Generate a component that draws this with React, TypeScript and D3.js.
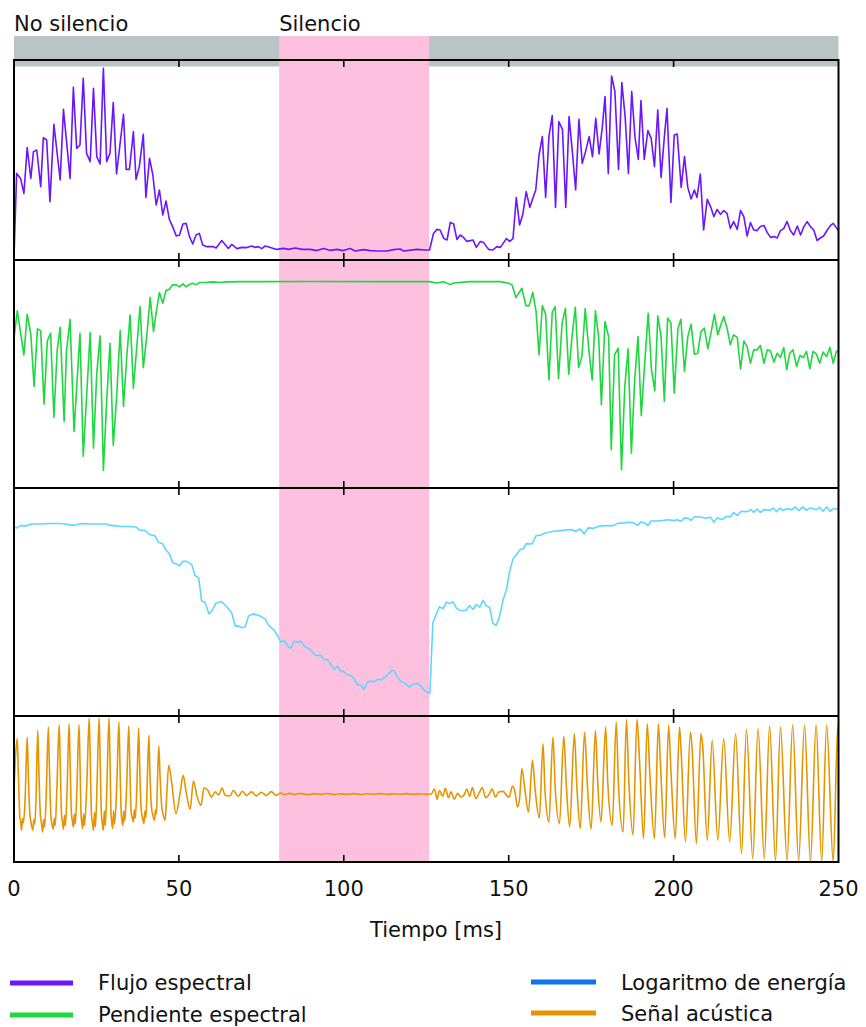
import React from "react";
import * as d3 from "d3";

type P = [number, number];

const ticksMs = [0, 50, 100, 150, 200, 250];
const silence: [number, number] = [80.4, 125.9];
const topLabels = [
  { text: "No silencio", t: 0 },
  { text: "Silencio", t: 80.4 },
];
const legendLeft = [
  { label: "Flujo espectral", color: "#6a16ff" },
  { label: "Pendiente espectral", color: "#1fd83f" },
];
const legendRight = [
  { label: "Logaritmo de energía", color: "#0b74ee" },
  { label: "Señal acústica", color: "#e69500" },
];

const flujo: P[] = [
  [0,1.7],[0.8,43.3],[2.0,40.8],[3.0,33.3],[4.0,56.2],[5.1,40.8],[5.9,54.2],[6.9,55],[8.1,36.7],[8.9,61.2],[9.9,60],[10.9,29.2],[12.1,67.8],[14.0,40],[15.0,75.3],[17.0,40.8],[18.0,86.3],[19.0,55.8],[20.0,57.5],[21.0,90.8],[22.0,53.3],[23.1,49.2],[24.1,85.8],[25.1,51.7],[26.1,48],[27.1,95.8],[28.1,49.2],[29.1,53.3],[30.1,78.7],[31.1,43],[33.2,72.8],[34.0,45.3],[35.0,45.3],[36.2,64.2],[37.0,40.3],[38.0,46.7],[39.2,62.8],[40.0,31.3],[41.1,50.8],[42.1,42.5],[43.1,27.5],[44.1,35],[45.1,22.5],[46.1,29.5],[47.1,20.3],[48.1,16.7],[49.2,12],[50.2,12.5],[51.2,18],[52.2,18.3],[53.2,11.7],[54.2,8],[55.2,12.5],[56.2,13.3],[57.2,7.5],[58.3,6.7],[60.3,6.7],[61.3,6],[63.0,9.7],[65.0,5.8],[66.0,7.8],[67.6,5.7],[69.1,6.3],[70.6,6.2],[72.1,7],[73.1,6.3],[74.1,6.7],[75.1,5.7],[76.2,7],[77.7,6.3],[79.7,5.3],[81.7,5.8],[83.2,5.3],[85.3,6],[87.3,5.3],[89.8,5.3],[91.8,4.7],[93.9,5.8],[95.9,4.8],[97.9,5.3],[99.9,4.7],[101.9,5.7],[103.5,4.5],[106.0,5.2],[108.0,4.7],[110.0,4.5],[113.1,4.5],[115.1,5.2],[117.1,5.5],[118.1,4.5],[122.2,5.3],[124.7,5],[126.0,5],[127.2,13.3],[128.2,15.3],[129.2,15],[130.3,10.8],[131.3,10],[132.3,18.8],[133.3,18],[134.3,10.3],[135.3,12.5],[136.3,11.3],[137.3,9.3],[139.2,10],[140.2,6.3],[141.4,9.3],[142.4,8.7],[143.9,5.3],[145.2,5],[146.4,6.7],[147.5,6.3],[149.3,10.7],[150.3,9.3],[151.3,10.7],[152.3,31.2],[153.3,17.5],[154.3,23],[155.3,34.2],[156.4,26.3],[157.4,31.3],[158.2,35],[159.2,52.5],[160.2,61.7],[161.2,31.3],[162.2,61.7],[163.2,72.2],[164.2,26.3],[165.2,69.2],[166.3,65.3],[167.3,26.3],[168.3,71.7],[169.3,54.2],[170.3,35],[171.3,70.3],[172.3,48.3],[173.3,54.2],[174.4,61.7],[175.4,51.7],[176.4,70.8],[177.4,53],[178.4,66.7],[179.2,81.7],[180.2,43.3],[181.2,92],[182.2,84.2],[183.3,45.3],[184.3,88.7],[185.3,71.7],[186.3,43.3],[187.3,84.2],[188.3,61.3],[189.3,50.3],[190.1,79.7],[191.1,50.3],[192.2,64.7],[193.2,60.8],[194.2,46.7],[195.2,75],[196.2,41.3],[197.2,61.7],[198.0,75.7],[199.2,28.8],[200.2,62.5],[201.1,63],[202.3,36.3],[203.3,51.7],[204.3,36.3],[205.3,30.5],[206.3,35],[207.1,31.3],[208.1,43],[209.1,15],[210.2,30.3],[211.2,26.7],[212.2,21.7],[213.2,25.3],[214.2,22.8],[215.2,24.7],[216.2,23.3],[217.2,15.8],[218.2,19.2],[219.3,15.3],[220.3,24.7],[221.3,21.7],[222.3,12],[223.3,18.7],[224.3,15],[225.3,14.7],[226.3,16.7],[227.4,17.3],[228.4,13.7],[229.4,11.3],[230.4,11.7],[231.4,11],[232.4,14.7],[233.4,15.7],[234.4,19.3],[235.4,14.7],[236.4,12.5],[237.5,17],[238.5,12.5],[239.5,16.7],[240.5,19.2],[241.5,16.7],[242.5,15],[243.5,9.7],[244.5,11],[245.5,12],[246.6,15],[247.6,17.3],[248.4,18.3],[250,14.7],
];

const pendiente: P[] = [
  [0,65.7],[1.0,77.7],[3.0,58.4],[4.0,76.2],[5.1,67.4],[6.1,44.5],[7.1,69.8],[8.1,68.9],[9.1,36.8],[10.1,64.5],[11.1,67.9],[12.1,30.9],[13.1,60.6],[14.0,70.5],[15.2,29.2],[15.9,59.9],[17.0,74],[18.2,24.8],[20.0,67.9],[21.0,13.9],[23.1,68.2],[24.1,17.5],[25.1,50.4],[26.1,66.7],[27.1,7.7],[28.1,38],[29.1,63.5],[30.1,18.7],[31.1,39.4],[32.2,69.1],[33.2,35.8],[34.2,57.7],[35.2,75.9],[36.2,43.8],[37.2,61.3],[38.2,79.6],[39.2,52.8],[40.2,65.7],[41.3,83.6],[42.3,68.6],[43.3,78.8],[44.1,85.7],[45.1,81],[46.1,86.6],[47.1,87.2],[48.1,89.1],[49.2,89.1],[50.2,88.2],[51.2,89.5],[52.2,88.2],[53.2,89.3],[54.2,89.8],[55.2,89.1],[56.2,90.1],[58.5,90.2],[60.5,90.4],[62.5,90.1],[64.5,90.4],[68.6,90.5],[76.7,90.5],[90,90.6],[110,90.5],[123.2,90.5],[126,90.5],[128.2,89.9],[130.3,90.5],[132.3,89.2],[133.3,89.9],[138.3,90.5],[147.5,90.5],[150,89.8],[151,89.1],[152.2,83.5],[154,87.6],[155.2,80],[156.2,80],[157.3,85.8],[158.3,77.4],[159.2,58.4],[160.2,80],[161.2,76.2],[162.2,47.4],[163.2,77.1],[164.1,79.6],[165.1,47.9],[166.2,72.3],[167.2,78.8],[168.2,49.9],[169.2,66.4],[170.2,79.3],[171.2,52.8],[172.2,57.7],[173.2,78.7],[174.3,60.6],[175.3,47.4],[176.3,77.7],[177.3,65.7],[178.1,36.5],[179.2,73],[180.3,66.4],[181.1,16.8],[182.1,58.4],[183.2,61.3],[184.2,8],[185.2,44.5],[186.2,61],[187.2,15.3],[188.2,47.4],[189.2,66.4],[190.2,31.7],[191.2,54],[192.3,76.6],[193.3,51.8],[194.3,42.6],[195.2,75.5],[196.2,66.4],[197.2,38],[198.2,74.5],[199.2,72.3],[200.2,41.6],[201.3,69.8],[202.2,74],[203.3,51.1],[204.3,66.4],[205.3,71.8],[206.3,58.7],[207.3,59.1],[208.3,68.6],[209.3,70.1],[210.4,61],[211.4,68.6],[212.4,76.2],[213.4,67.2],[214.4,71.8],[215.2,75.2],[216.2,70.1],[217.2,62.8],[218.2,67.2],[219.3,66.1],[220.3,52.1],[221.3,64.5],[222.3,62],[223.3,54.7],[224.3,60.6],[225.3,60.6],[226.3,62.5],[227.4,54.7],[228.4,60.6],[229.4,60.1],[230.4,55.2],[231.4,59.1],[232.4,57.2],[233.4,61.6],[234.3,51.8],[235.2,59.1],[236.2,60.6],[237.3,53.3],[238.3,58.1],[239.3,57.2],[240.3,59.9],[241.3,52.3],[242.3,59.9],[243.3,58.7],[244.3,54.7],[245.3,59.6],[246.4,57.7],[247.4,61.6],[248.4,54.7],[249.4,60.1],[250,59.6],
];

const energia: P[] = [
  [0,82.8],[0.8,82.5],[2.0,83.5],[3.8,83.4],[5.1,84.2],[7.9,84.2],[10.9,84.4],[14.0,84.4],[16.0,84.1],[17.5,83.6],[19.0,83.9],[20.5,84.4],[24.1,84.2],[28.1,84.2],[29.1,83.6],[31.1,83.4],[32.2,83.1],[34.2,83.1],[37.0,82.9],[38.0,81.6],[39.8,81.3],[41.1,79.6],[42.8,79],[43.8,76.2],[45.1,75.5],[45.8,73.4],[47.1,71.2],[48.1,67.2],[49.2,66.7],[50.2,65.8],[51.2,67.9],[52.2,67.9],[53.9,66.4],[54.9,61.6],[56.0,60.6],[56.9,50.4],[57.9,49.9],[59.1,44.8],[60.0,46],[61.3,49.6],[63.0,50.1],[64.5,47.9],[66.0,45.3],[67.1,39.4],[68.1,39.4],[69.1,38.7],[70.1,39],[71.1,43.8],[72.4,44.8],[74.1,44.2],[76.2,42.6],[77.2,39.7],[78.9,37.7],[79.9,35.3],[80.9,32.4],[81.9,33.1],[82.9,30.9],[83.9,29.6],[85.0,32.8],[86.0,32.4],[87.0,32.8],[88.0,30.7],[90.0,28.9],[91.3,26.6],[93.0,26.6],[94.0,24.8],[95.1,24.8],[96.1,22.6],[97.1,20.4],[98.1,21.9],[99.1,19.4],[99.9,19.7],[101.1,18],[102.1,17.8],[103.2,16.1],[104.2,13.6],[105.2,13.6],[106.0,11.7],[107.2,14.9],[108.2,15.3],[109.2,15],[110.2,16.1],[111.2,15.8],[112.6,17.1],[113.6,18.5],[114.6,20.1],[115.3,19.7],[116.3,16.8],[117.3,15.3],[118.6,14.3],[119.9,12.7],[120.9,13.9],[122.4,14.3],[123.4,13.1],[124.7,10.9],[126.1,9.9],[127.0,40.9],[128.0,44.5],[129.0,47.9],[130.1,47],[131.1,49.9],[132.1,49.3],[133.1,50.1],[134.1,47.4],[135.1,46.3],[137.1,46.3],[138.1,48.5],[139.2,46.7],[140.2,48.9],[141.2,47.7],[142.2,50.8],[143.2,48.2],[144.2,47.7],[145.2,40.6],[146.2,39.7],[147.2,43.5],[148.3,51.1],[149.3,55.2],[150.3,63.5],[151.3,68.9],[152.5,71.1],[153.5,73],[154.5,73.4],[155.3,75.6],[157.1,75.5],[158.3,79.1],[159.6,79.3],[161.1,80.3],[163.6,81],[165.7,81.3],[169.2,81.8],[170.2,80.9],[171.7,82],[172.9,79.9],[174.1,82.5],[175.8,82.3],[177.3,83.2],[179.8,83.5],[181.8,83.5],[182.8,84.4],[184.9,84.7],[186.4,85],[187.9,84.7],[189.1,83.6],[190.1,85.1],[191.1,84.7],[192.2,83.6],[193.2,85.5],[195.0,85.5],[197.0,85.8],[198.5,86.1],[200.0,85.7],[201.1,86.1],[202.3,85.4],[203.3,86.9],[204.6,86.6],[205.3,85.8],[206.3,87.4],[208.1,87.3],[209.6,86.7],[211.2,87.2],[212.2,85],[213.2,86.9],[214.7,86.1],[216.2,87.6],[217.2,87.3],[218.2,89.3],[219.3,87.9],[220.5,89.8],[222.3,89.6],[223.5,90.5],[224.3,89.3],[225.3,90.8],[226.3,89.3],[227.4,90.5],[229.2,90.2],[230.2,91.2],[231.2,89.6],[232.2,91.2],[233.2,90.2],[234.4,90.9],[235.9,90.5],[236.9,91.7],[238.0,90.1],[239.2,91.7],[240.2,90.2],[241.3,91.2],[242.5,90.9],[243.3,90.5],[244.3,91.5],[245.3,89.8],[246.4,91.7],[247.4,89.8],[248.6,91.1],[250,90.5],
];

const senal: P[] = [
  [0,50],[0.4,70],[1.0,84.5],[1.3,62],[1.8,30],[2.0,28],[2.3,21.7],[2.6,30],[2.9,27],[3.4,45],
  [4.0,85.6],[4.3,63],[4.8,33],[5.1,28],[5.7,21.7],[6.0,29],[6.3,26],[6.7,45],
  [7.2,90.2],[7.5,66],[8.0,32],[8.3,27],[8.7,20.5],[9.0,29],[9.3,24],[9.8,48],
  [10.4,92.5],[10.7,68],[11.2,31],[11.5,26],[11.9,22.4],[12.2,30],[12.5,25],[13.0,50],
  [13.7,94],[14.0,70],[14.4,33],[14.7,27],[15.0,22.4],[15.3,32],[15.6,25],[16.1,50],
  [16.7,94.7],[17.0,70],[17.4,34],[17.7,28],[18.0,24],[18.3,33],[18.6,26],[19.1,52],
  [19.7,94],[20.0,70],[20.3,34],[20.5,28],[20.8,22.8],[21.1,33],[21.4,25],[22.1,55],
  [22.8,98.6],[23.1,72],[23.5,32],[23.8,27],[24.1,21.7],[24.4,34],[24.7,24],[25.2,55],
  [25.8,98.6],[26.1,72],[26.5,33],[26.8,26],[27.1,21.7],[27.4,35],[27.7,25],[28.2,55],
  [28.8,98.6],[29.1,72],[29.4,34],[29.6,28],[29.9,22.8],[30.2,35],[30.5,26],[31.2,55],
  [31.8,95.9],[32.1,70],[32.5,34],[32.7,29],[33.0,25.1],[33.3,35],[33.6,28],[34.2,55],
  [34.8,93.2],[35.1,68],[35.5,35],[35.8,31],[36.2,27.4],[36.5,36],[36.8,30],[37.3,55],
  [37.8,91.8],[38.1,66],[38.6,35],[39.0,30],[39.4,26.3],[39.7,35],[40.0,30],[40.4,55],
  [40.9,86.8],[41.2,62],[41.7,37],[42.1,32],[42.6,28.5],[42.9,36],[43.2,33],[43.5,55],
  [43.9,79.5],[44.3,58],[44.8,38],[45.2,33],[45.8,28.5],[46.3,45],
  [46.9,66.2],[47.8,54.8],[49.1,33.1],[50.4,47.9],[51.3,59.4],[52.2,47.9],[53.4,36.1],[54.4,55.5],[55.5,45],[56.7,38.8],[57.6,50.7],[58.7,49.3],[59.9,44.5],[61.0,48],[62.0,46],[63.1,50.7],[64.0,45.7],[65.5,45.2],
  [66.5,49],[68,45],[69.3,48.5],[70.5,45.5],[72,48],[73.5,45.3],[75,47.8],[76.5,45.5],[78,48.2],[79.5,45.6],[81,47.3],
  [82,46],[83.5,47],[85,46.2],[87,46.9],[89,46.1],[91,46.8],[93,46.3],[95,46.9],[97,46.2],[99,46.7],[101,46.3],[103,46.8],[105,46.2],[107,46.7],[109,46.4],[111,46.8],[113,46.3],[115,46.7],[117,46.4],[119,46.8],[121,46.3],[123,46.7],[125,46.4],[126.5,46.6],
  [127.5,50],[128.3,43],[129,49],[130,45],[130.8,50.5],[131.7,44],[132.5,48],[133.5,43],[134.5,47],[135.5,44.5],[136.5,46],[137.3,50],[138.2,45],[139,51],[140,43.5],[141,47],[142,51],[143,44],[144,46],[145,50],[146,44.5],[147,48],
  [148.3,48.4],[149.5,45.2],[150.2,44.5],[151.1,52.1],[151.8,49.1],[152.7,37.7],[153.3,43.4],[154.0,63.9],[154.7,53.6],[156.0,34.2],[157.2,69.6],[158.0,49.8],[159.3,30.1],[160.4,81],[161.0,49.1],[162.2,27.4],[163.4,85.6],[164.1,51.4],[165.4,26.3],[166.7,86.3],[167.5,51.4],[168.5,24],[169.9,87.9],[170.7,50],[171.7,22.8],[173.0,89],[173.9,51],[175.0,22.4],[176.3,90.2],[177.0,54],[178.0,27.4],[179.4,92.5],[180.0,56],[181.4,25.1],[182.6,95.9],[183.3,52],[184.7,20.5],[185.7,97.7],[186.4,57],[187.7,18.3],[188.9,97.7],[189.7,68],[190.9,16],[192.0,94.7],[192.8,60],[194.2,16],[195.4,94.7],[196.0,68],[197.3,16.7],[198.5,93.6],[199.2,62],[200.5,16],[201.8,92.5],[202.3,75],[203.6,13.7],[205.1,89],[205.6,78],[206.9,12.6],[208.3,87.9],[208.8,80],[210.2,14.8],[211.7,83.3],[213.4,14.8],[215.2,84.5],[217.0,13.7],[218.8,87.9],[220.6,5.7],[222.1,90.9],[224.0,2.3],[225.6,91.3],[227.5,2.3],[229.1,93.2],[230.9,1.1],[232.4,92.5],[234.4,1.1],[236.1,94],[237.9,0.5],[239.7,94],[241.5,0],[243.2,94],[244.9,0.5],[246.4,94],[248.4,0.2],[249.8,93.6],[250,92],
];

const W = 866;
const H = 1027;
const FONT = "'DejaVu Sans', Verdana, sans-serif";

export default function App() {
  const x = d3.scaleLinear().domain([0, 250]).range([14, 838.5]);
  const panels = [
    { data: flujo, top: 60, bottom: 260, color: "#6a16ff", curve: d3.curveLinear },
    { data: pendiente, top: 260, bottom: 488, color: "#1fd83f", curve: d3.curveLinear },
    { data: energia, top: 488, bottom: 716, color: "#5fd6ff", curve: d3.curveLinear },
    { data: senal, top: 716, bottom: 862, color: "#e69500", curve: d3.curveMonotoneX },
  ];
  const bounds = [60, 260, 488, 716, 862];
  const innerTicks = ticksMs.filter((t) => t > 0 && t < 250);

  return (
    <svg
      width={W}
      height={H}
      style={{ position: "absolute", left: 0, top: 0, background: "#fff" }}
      fontFamily={FONT}
    >
      <rect x={x(0)} y={36} width={x(250) - x(0)} height={30.5} fill="#b8c5c4" />
      <rect x={x(silence[0])} y={36} width={x(silence[1]) - x(silence[0])} height={862 - 36} fill="#fdc0df" />
      {topLabels.map((l) => (
        <text key={l.text} x={x(l.t)} y={31} fontSize={21} fill="#111">
          {l.text}
        </text>
      ))}
      {panels.map((p, i) => {
        const y = d3.scaleLinear().domain([0, 100]).range([p.bottom, p.top]);
        const line = d3
          .line<P>()
          .x((d) => x(d[0]))
          .y((d) => y(d[1]))
          .curve(p.curve);
        return (
          <path
            key={i}
            d={line(p.data) || ""}
            fill="none"
            stroke={p.color}
            strokeWidth={1.6}
            strokeLinejoin="round"
          />
        );
      })}
      <rect x={x(0)} y={60} width={x(250) - x(0)} height={862 - 60} fill="none" stroke="#000" strokeWidth={2} />
      {bounds.slice(1, 4).map((b) => (
        <line key={b} x1={x(0)} x2={x(250)} y1={b} y2={b} stroke="#000" strokeWidth={2} />
      ))}
      {bounds.map((b, bi) =>
        innerTicks.map((t) => (
          <line
            key={`${b}-${t}`}
            x1={x(t)}
            x2={x(t)}
            y1={bi === 0 ? b : b - 7}
            y2={bi === bounds.length - 1 ? b : b + 7}
            stroke="#000"
            strokeWidth={1.6}
          />
        ))
      )}
      {ticksMs.map((t) => (
        <text key={t} x={x(t)} y={896} fontSize={21} textAnchor="middle" fill="#111">
          {t}
        </text>
      ))}
      <text x={436} y={937} fontSize={21} textAnchor="middle" fill="#111">
        Tiempo [ms]
      </text>
      {legendLeft.map((l, i) => (
        <g key={l.label}>
          <line x1={10} x2={73} y1={983 + i * 32} y2={983 + i * 32} stroke={l.color} strokeWidth={5} />
          <text x={98} y={990 + i * 31.5} fontSize={21} fill="#111">
            {l.label}
          </text>
        </g>
      ))}
      {legendRight.map((l, i) => (
        <g key={l.label}>
          <line x1={531} x2={596} y1={982 + i * 31} y2={982 + i * 31} stroke={l.color} strokeWidth={5} />
          <text x={621} y={990 + i * 31} fontSize={21} fill="#111">
            {l.label}
          </text>
        </g>
      ))}
    </svg>
  );
}
